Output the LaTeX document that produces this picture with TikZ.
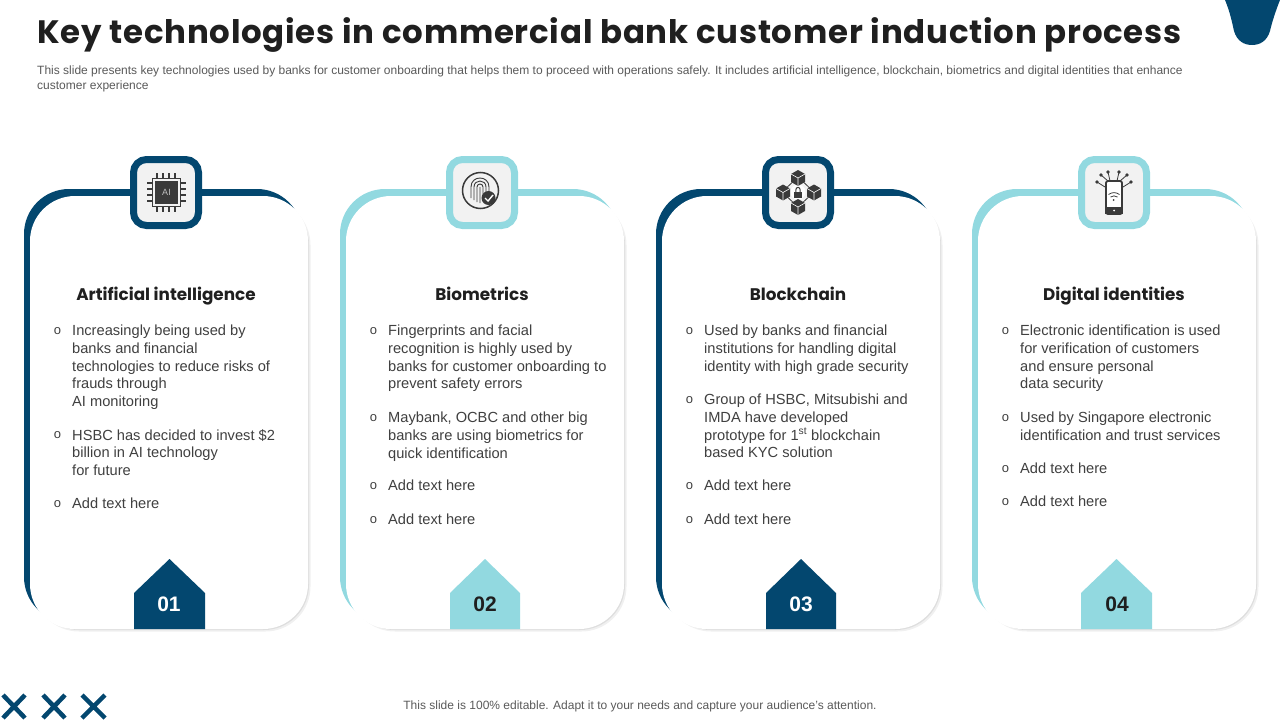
\documentclass[tikz,border=0pt]{standalone}
\usepackage{fontspec}
\setmainfont{Liberation Sans}
\newfontfamily\headfont[LetterSpace=2.4]{Poppins}
\newfontfamily\cardfont{Poppins}
\usepackage{tikz}
\definecolor{navy}{HTML}{03476F}
\definecolor{teal}{HTML}{92D9E0}
\definecolor{bodygray}{HTML}{404040}
\definecolor{smallgray}{HTML}{595959}
\definecolor{icondark}{HTML}{3A3A3A}
\tikzset{
  headline/.style={anchor=base west,inner sep=0pt,text=black!88,font=\headfont\bfseries\fontsize{32.4}{36}\selectfont},
  smalltext/.style={anchor=north west,inner sep=0pt,align=left,text=smallgray,font=\fontsize{12}{14.2}\selectfont},
  cardback/.style={rounded corners=45pt},
  cardshadow/.style={rounded corners=45pt},
  cardfront/.style={rounded corners=45pt,fill=white},
  iconbox/.style={rounded corners=13pt,fill=black!5,line width=7pt},
  cardtitle/.style={anchor=base,inner sep=0pt,text=black!88,font=\cardfont\bfseries\fontsize{16.8}{20}\selectfont},
  bodytext/.style={anchor=north west,inner sep=0pt,align=left,text=bodygray,font=\fontsize{14.65}{17.6}\selectfont},
  bulletmark/.style={inner sep=0pt,text=bodygray,font=\fontsize{13}{14}\selectfont},
  number/.style={inner sep=0pt,text=white,font=\bfseries\fontsize{21}{24}\selectfont},
  iconline/.style={draw=icondark,line width=1.1pt},
  crossmark/.style={draw=navy,line width=4.5pt}
}
\begin{document}
\begin{tikzpicture}[x=1pt,y=-1pt]
\useasboundingbox (0,0) rectangle (1280,720);
% top corner tab
\fill[navy] (1225,0) .. controls (1230,12) and (1232,22) .. (1234,31) .. controls (1237,41) and (1244,45) .. (1252,45) .. controls (1260,45) and (1267,41) .. (1270,31) .. controls (1272,22) and (1276,10) .. (1280,0) -- cycle;
\path (37,43) node[headline] (title) {Key technologies in commercial bank customer induction process}
		(37,66) node[smalltext] (intro) {This slide presents key technologies used by banks for customer onboarding that helps them to proceed with operations safely. It includes artificial intelligence, blockchain, biometrics and digital identities that enhance\\customer experience}
		;
% cards
\fill[navy,cardback] (24,189) rectangle (302,622);
\fill[teal,cardback] (340,189) rectangle (618,622);
\fill[navy,cardback] (656,189) rectangle (934,622);
\fill[teal,cardback] (972,189) rectangle (1250,622);
\fill[black!6,cardshadow] (34,200) rectangle (310.5,631.5);
\fill[black!6,cardshadow] (350,200) rectangle (626.5,631.5);
\fill[black!6,cardshadow] (666,200) rectangle (942.5,631.5);
\fill[black!6,cardshadow] (982,200) rectangle (1258.5,631.5);
\fill[black!13,cardshadow] (34,200) rectangle (309,630);
\fill[black!13,cardshadow] (350,200) rectangle (625,630);
\fill[black!13,cardshadow] (666,200) rectangle (941,630);
\fill[black!13,cardshadow] (982,200) rectangle (1257,630);
\path[cardfront] (30,196) rectangle (308,629);
\path[cardfront] (346,196) rectangle (624,629);
\path[cardfront] (662,196) rectangle (940,629);
\path[cardfront] (978,196) rectangle (1256,629);
\draw[iconbox,draw=navy] (133.5,159.5) rectangle (198.5,225.5);
\draw[iconbox,draw=teal] (449.5,159.5) rectangle (514.5,225.5);
\draw[iconbox,draw=navy] (765.5,159.5) rectangle (830.5,225.5);
\draw[iconbox,draw=teal] (1081.5,159.5) rectangle (1146.5,225.5);
% AI chip
\draw[iconline] (152.5,178.5) rectangle (180.5,206.5);
\fill[icondark] (155,181) rectangle (178,204);
\draw[iconline] (157,178) -- (157,173) (163,178) -- (163,173) (169,178) -- (169,173) (175,178) -- (175,173)
		(157,207) -- (157,212) (163,207) -- (163,212) (169,207) -- (169,212) (175,207) -- (175,212)
		(152,183) -- (147,183) (152,189) -- (147,189) (152,195) -- (147,195) (152,201) -- (147,201)
		(181,183) -- (186,183) (181,189) -- (186,189) (181,195) -- (186,195) (181,201) -- (186,201);
\node[inner sep=0pt,text=black!25,font=\fontsize{9}{10}\selectfont] (chip) at (166.5,192.5) {AI};
% fingerprint
\draw[icondark,line width=1.5pt] (480.5,190.5) circle (18);
\draw[iconline,line width=.9pt] (471,198) -- (471,187) .. controls (471,175) and (489,175) .. (489,187) -- (489,194)
		(474,200) -- (474,187) .. controls (474,179) and (486,179) .. (486,187) -- (486,192)
		(477,202) -- (477,187) .. controls (477,183) and (483,183) .. (483,187) -- (483,194)
		(480,203) -- (480,187);
\fill[icondark] (488.5,198) circle (7);
\draw[white,line width=1.4pt] (485,198) -- (488,201) -- (493,195);
% blockchain
\draw[icondark,line width=.8pt] (798,177) -- (782,192) -- (798,207) -- (814,192) -- cycle;
\fill[white] (798,192) circle (7.5);
\fill[icondark] (798,170) -- (805,174) -- (805,182) -- (798,186) -- (791,182) -- (791,174) -- cycle;
\fill[icondark] (783,184.5) -- (790,188.5) -- (790,196.5) -- (783,200.5) -- (776,196.5) -- (776,188.5) -- cycle;
\fill[icondark] (814,184.5) -- (821,188.5) -- (821,196.5) -- (814,200.5) -- (807,196.5) -- (807,188.5) -- cycle;
\fill[icondark] (798,199) -- (805,203) -- (805,211) -- (798,215) -- (791,211) -- (791,203) -- cycle;
\draw[white,line width=.6pt] (791,174) -- (798,178) -- (805,174) (798,178) -- (798,186)
		(776,188.5) -- (783,192.5) -- (790,188.5) (783,192.5) -- (783,200.5)
		(807,188.5) -- (814,192.5) -- (821,188.5) (814,192.5) -- (814,200.5)
		(791,203) -- (798,207) -- (805,203) (798,207) -- (798,215);
\fill[icondark] (794,192) rectangle (802,198);
\draw[icondark,line width=1pt] (795.8,192) -- (795.8,190) .. controls (795.8,186.5) and (800.2,186.5) .. (800.2,190) -- (800.2,192);
% phone
\draw[icondark,line width=.8pt] (1108,181) -- (1101,175) (1110,181) -- (1108,172) (1117,181) -- (1119,172) (1120,181) -- (1127,175) (1105,187) -- (1097,182) (1123,187) -- (1131,182);
\fill[icondark] (1101,175) circle (1.8) (1108,172) circle (1.8) (1119,172) circle (1.8) (1127,175) circle (1.8) (1097,182) circle (1.8) (1131,182) circle (1.8);
\draw[icondark,fill=white,line width=1.8pt,rounded corners=2pt] (1106,181) rectangle (1122,214);
\fill[icondark] (1105,207) rectangle (1123,214);
\fill[white] (1114,210.5) circle (1);
\fill[icondark] (1113.5,200) circle (1);
\draw[icondark,line width=.8pt] (1110.5,197) .. controls (1112.5,195.5) and (1115.5,195.5) .. (1117.5,197)
		(1108.5,194.5) .. controls (1112,192) and (1116,192) .. (1119.5,194.5);
% number tabs
\fill[navy] (134,629) -- (134,593) -- (169.5,559) -- (205,593) -- (205,629) -- cycle;
\fill[teal] (450,629) -- (450,593) -- (485,559) -- (520,593) -- (520,629) -- cycle;
\fill[navy] (766,629) -- (766,593) -- (801,559) -- (836,593) -- (836,629) -- cycle;
\fill[teal] (1081,629) -- (1081,593) -- (1116.5,559) -- (1152,593) -- (1152,629) -- cycle;
\path (169,604.5) node[number] (numa) {01}
		(485,604.5) node[number,text=black!88] (numb) {02}
		(801,604.5) node[number] (numc) {03}
		(1117,604.5) node[number,text=black!88] (numd) {04}
		(166,300) node[cardtitle] (titlea) {Artificial intelligence}
		(482,300) node[cardtitle] (titleb) {Biometrics}
		(798,300) node[cardtitle] (titlec) {Blockchain}
		(1114,300) node[cardtitle] (titled) {Digital identities}
		;
% first card
\path (72,325) node[bodytext] (aone) {Increasingly being used by\\banks and financial\\technologies to reduce risks of\\frauds through\\AI monitoring}
		(72,429) node[bodytext] (atwo) {HSBC has decided to invest \$2\\billion in AI technology\\for future}
		(72,498) node[bodytext] (athree) {Add text here}
		(57.5,331) node[bulletmark] (ba) {o}
		(57.5,435) node[bulletmark] (bb) {o}
		(57.5,504) node[bulletmark] (bc) {o}
		;
% second card
\path (388,325) node[bodytext] (bone) {Fingerprints and facial\\recognition is highly used by\\banks for customer onboarding to\\prevent safety errors}
		(388,412) node[bodytext] (btwo) {Maybank, OCBC and other big\\banks are using biometrics for\\quick identification}
		(388,480) node[bodytext] (bthree) {Add text here}
		(388,514) node[bodytext] (bfour) {Add text here}
		(373.5,331) node[bulletmark] (bd) {o}
		(373.5,418) node[bulletmark] (be) {o}
		(373.5,486) node[bulletmark] (bf) {o}
		(373.5,520) node[bulletmark] (bg) {o}
		;
% third card
\path (704,325) node[bodytext] (cone) {Used by banks and financial\\institutions for handling digital\\identity with high grade security}
		(704,394) node[bodytext] (ctwo) {Group of HSBC, Mitsubishi and\\IMDA have developed\\prototype for 1\textsuperscript{st} blockchain\\based KYC solution}
		(704,480) node[bodytext] (cthree) {Add text here}
		(704,514) node[bodytext] (cfour) {Add text here}
		(689.5,331) node[bulletmark] (bh) {o}
		(689.5,400) node[bulletmark] (bi) {o}
		(689.5,486) node[bulletmark] (bj) {o}
		(689.5,520) node[bulletmark] (bk) {o}
		;
% fourth card
\path (1020,325) node[bodytext] (done) {Electronic identification is used\\for verification of customers\\and ensure personal\\data security}
		(1020,412) node[bodytext] (dtwo) {Used by Singapore electronic\\identification and trust services}
		(1020,463) node[bodytext] (dthree) {Add text here}
		(1020,496) node[bodytext] (dfour) {Add text here}
		(1005.5,331) node[bulletmark] (bl) {o}
		(1005.5,418) node[bulletmark] (bm) {o}
		(1005.5,469) node[bulletmark] (bn) {o}
		(1005.5,502) node[bulletmark] (bo) {o}
		;
% footer
\draw[crossmark] (3,695) -- (25,718) (25,695) -- (3,718);
\draw[crossmark] (43,695) -- (65,718) (65,695) -- (43,718);
\draw[crossmark] (82,695) -- (105,718) (105,695) -- (82,718);
\node[smalltext,anchor=center] (foot) at (640,706) {This slide is 100\% editable. Adapt it to your needs and capture your audience's attention.};
\end{tikzpicture}
\end{document}
